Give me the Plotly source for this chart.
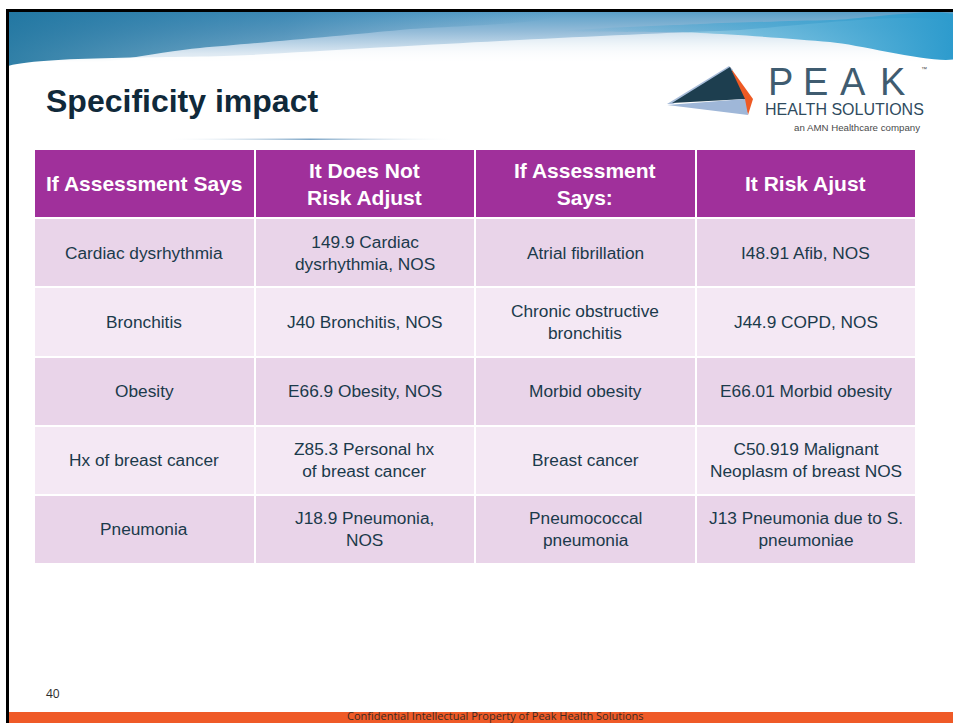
import plotly.graph_objects as go

# ---------------- data ----------------
title = "Specificity impact"
headers = ["If Assessment Says", "It Does Not<br>Risk Adjust", "If Assessment<br>Says:", "It Risk Ajust"]
assessment_says = ["Cardiac dysrhythmia", "Bronchitis", "Obesity", "Hx of breast cancer", "Pneumonia"]
not_risk_adjust = ["149.9 Cardiac<br>dysrhythmia, NOS", "J40 Bronchitis, NOS", "E66.9 Obesity, NOS",
                   "Z85.3 Personal hx<br>of breast cancer", "J18.9 Pneumonia,<br>NOS"]
assessment_says2 = ["Atrial fibrillation", "Chronic obstructive<br>bronchitis", "Morbid obesity",
                    "Breast cancer", "Pneumococcal<br>pneumonia"]
risk_adjust = ["I48.91 Afib, NOS", "J44.9 COPD, NOS", "E66.01 Morbid obesity",
               "C50.919 Malignant<br>Neoplasm of breast NOS", "J13 Pneumonia due to S.<br>pneumoniae"]
page_number = "40"
footer_text = "Confidential Intellectual Property of Peak Health Solutions"

columns = [assessment_says, not_risk_adjust, assessment_says2, risk_adjust]
n_rows = len(assessment_says)
n_cols = len(columns)

# ---------------- styles ----------------
W, H = 953, 723
SX, SY = 9, 12          # slide area starts here (inside the black frame)
FONT = "Liberation Sans, Arial, sans-serif"
HEADER_C = "#A0309B"
ROW_DARK = "#E9D4E9"
ROW_LIGHT = "#F4E8F4"
TEXT_C = "#1B3A4B"
TITLE_C = "#10293A"

fig = go.Figure()

# ---------------- decorative banner (pixel-space axes, clipped to slide) ----------------
def band(xs, ys, grad, shape="spline"):
    fig.add_trace(go.Scatter(x=xs, y=ys, mode="lines", fill="toself",
                             line=dict(width=0, shape=shape, smoothing=0.8),
                             fillgradient=grad, hoverinfo="skip", showlegend=False, xaxis="x", yaxis="y"))

band([0, 960, 960, 0, 0], [0, 0, 76, 76, 0],
     dict(type="vertical", start=12, stop=76,
          colorscale=[[0, "#5A9FC8"], [0.3, "#93BBD8"], [0.65, "#DCE8F2"], [1, "#FFFFFF"]]), shape="linear")
# darker teal region on the left
band([-20, 250, 560, 560, 400, 200, 0, -20], [0, 0, 0, 14, 30, 48, 64, 0],
     dict(type="horizontal", start=9, stop=560,
          colorscale=[[0, "rgba(28,115,158,0.9)"], [0.5, "rgba(40,122,168,0.6)"], [1, "rgba(60,140,185,0)"]]))
# white swoosh
band([0, 250, 500, 720, 960, 960, 0, 0], [70, 55, 41, 31, 27, 90, 90, 70],
     dict(type="vertical", start=27, stop=62,
          colorscale=[[0, "rgba(255,255,255,0.5)"], [1, "rgba(255,255,255,1)"]]))
# cyan swoosh on the right
band([560, 700, 830, 960, 960, 830, 700, 560], [31, 24, 20, 17, 57, 42, 33, 31],
     dict(type="horizontal", start=560, stop=953,
          colorscale=[[0, "rgba(60,160,205,0)"], [0.5, "rgba(60,165,210,0.65)"], [1, "rgba(45,155,205,1)"]]))
# underline under the title
band([163, 458, 458, 163, 163], [138.5, 138.5, 140, 140, 138.5],
     dict(type="horizontal", start=163, stop=458,
          colorscale=[[0, "rgba(255,255,255,0)"], [0.5, "rgba(125,165,198,1)"], [1, "rgba(255,255,255,0)"]]),
     shape="linear")

# ---------------- table (heatmap grid) ----------------
z = [[2] * n_cols] + [[(r % 2)] * n_cols for r in range(n_rows)]
fig.add_trace(go.Heatmap(
    z=z, x=list(range(n_cols)), y=list(range(n_rows + 1)),
    zmin=0, zmax=2, colorscale=[[0, ROW_DARK], [0.5, ROW_LIGHT], [1, HEADER_C]],
    showscale=False, xgap=2, ygap=2, hoverinfo="skip", xaxis="x2", yaxis="y2"))

annotations = []
for j, h in enumerate(headers):
    annotations.append(dict(x=j, y=0, xref="x2", yref="y2", text=h, showarrow=False,
                            font=dict(family=FONT, size=21, color="white", weight="bold"),
                            xanchor="center", yanchor="middle", align="center"))
for j, col in enumerate(columns):
    for i, t in enumerate(col):
        annotations.append(dict(x=j, y=i + 1, xref="x2", yref="y2", text=t, showarrow=False,
                                font=dict(family=FONT, size=17.3, color=TEXT_C),
                                xanchor="center", yanchor="middle", align="center"))

# title and logo texts
annotations += [
    dict(x=44, y=101, xref="x", yref="y", text=title, showarrow=False, xanchor="left", yanchor="middle",
         font=dict(family=FONT, size=32, color=TITLE_C, weight="bold")),
    dict(x=844, y=109, xref="x", yref="y", text="HEALTH SOLUTIONS", showarrow=False, xanchor="center",
         yanchor="middle", font=dict(family=FONT, size=16, color="#2F4B5E")),
    dict(x=922, y=127, xref="x", yref="y", text="an AMN Healthcare company", showarrow=False, xanchor="right",
         yanchor="middle", font=dict(family=FONT, size=9.7, color="#4A4A4A")),
    dict(x=924, y=69, xref="x", yref="y", text="™", showarrow=False, xanchor="center", yanchor="middle",
         font=dict(family=FONT, size=6, color="#4A4A4A")),
    dict(x=44, y=693, xref="x", yref="y", text=page_number, showarrow=False, xanchor="left", yanchor="middle",
         font=dict(family="Open Sans, sans-serif", size=12, color="#2B2B2B")),
    dict(x=495, y=715.5, xref="x", yref="y", text=footer_text, showarrow=False, xanchor="center",
         yanchor="middle", font=dict(family="Open Sans, sans-serif", size=11, color="#3D2A22")),
]
for letter, cx in zip("PEAK", [780, 815, 853, 892]):
    annotations.append(dict(x=cx, y=82, xref="x", yref="y", text=letter, showarrow=False, xanchor="center",
                            yanchor="middle", font=dict(family=FONT, size=38, color="#3F5C70")))

shapes = [
    # slide frame (paper coordinates)
    dict(type="rect", xref="paper", yref="paper", x0=6 / W, x1=1, y0=1 - 12 / H, y1=1 - 9 / H,
         fillcolor="black", line_width=0, layer="above"),
    dict(type="rect", xref="paper", yref="paper", x0=6 / W, x1=9 / W, y0=0, y1=1 - 9 / H,
         fillcolor="black", line_width=0, layer="above"),
    # bottom orange bar
    dict(type="rect", xref="x", yref="y", x0=9, x1=953, y0=712, y1=723, fillcolor="#EF5A27", line_width=0,
         layer="below"),
    # logo pyramid
    dict(type="path", xref="x", yref="y", path="M 730 67 L 753 99 L 748 115 L 743 99 Z",
         fillcolor="#EE5A24", line_width=0),
    dict(type="path", xref="x", yref="y", path="M 667 104 L 729 66 L 733 70 L 673 104 Z",
         fillcolor="#A9BDD9", line_width=0),
    dict(type="path", xref="x", yref="y", path="M 672 103 L 730 67 L 745 99 Z",
         fillcolor="#1D3E4F", line_width=0),
    dict(type="path", xref="x", yref="y", path="M 667 105 L 745 99 L 748 115 Z",
         fillcolor="#9FB7D8", line_width=0),
]

fig.update_layout(
    width=W, height=H, margin=dict(l=0, r=0, t=0, b=0),
    paper_bgcolor="white", plot_bgcolor="rgba(0,0,0,0)",
    xaxis=dict(range=[SX, W], domain=[SX / W, 1], visible=False, fixedrange=True),
    yaxis=dict(range=[H, SY], domain=[0, 1 - SY / H], visible=False, fixedrange=True),
    xaxis2=dict(range=[-0.5, n_cols - 0.5], domain=[34 / W, 916 / W], visible=False, anchor="y2", fixedrange=True),
    yaxis2=dict(range=[n_rows + 0.5, -0.5], domain=[(H - 564) / H, (H - 149) / H], visible=False, anchor="x2",
                fixedrange=True),
    annotations=annotations, shapes=shapes, showlegend=False,
)

fig.write_html("out.html", config={"displayModeBar": False},
               post_script="document.body.style.margin='0';document.body.style.overflow='hidden';")
